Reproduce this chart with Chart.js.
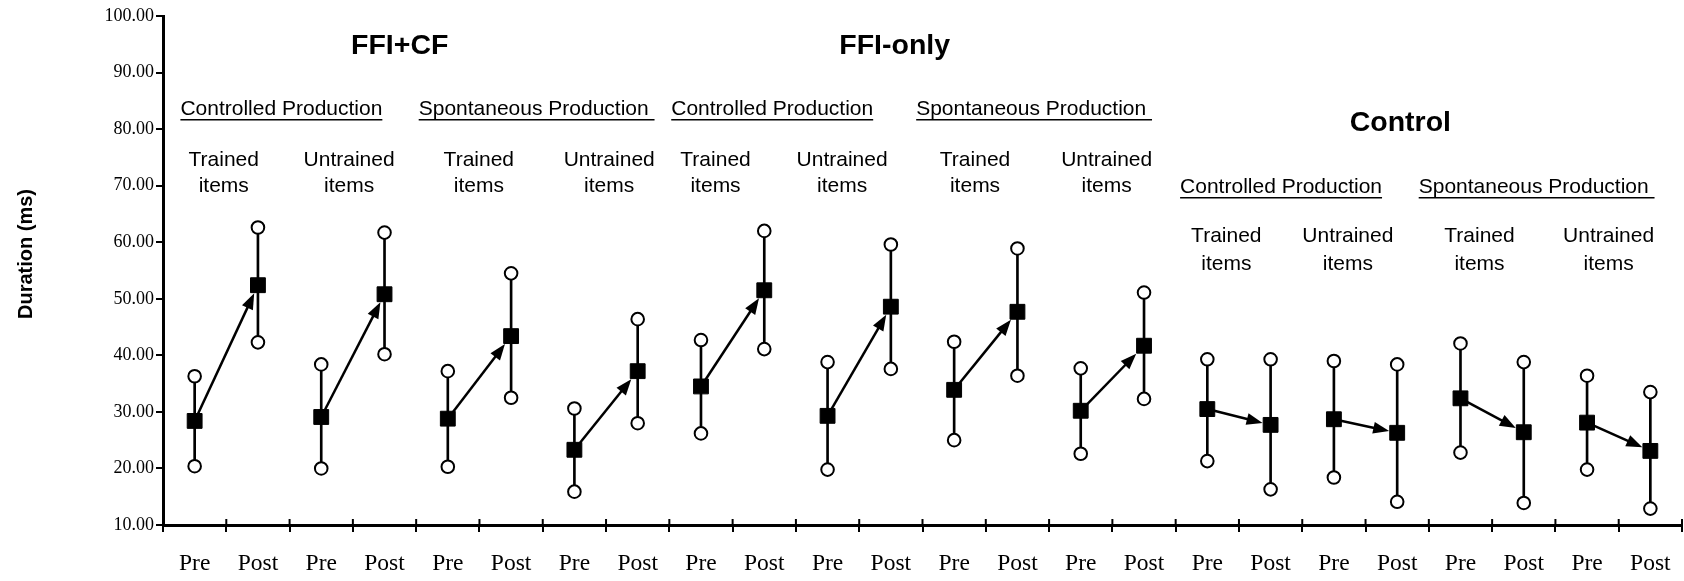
<!DOCTYPE html>
<html>
<head>
<meta charset="utf-8">
<script src="https://cdn.jsdelivr.net/npm/chart.js@4.4.0/dist/chart.umd.min.js"></script>
<style>
  html, body { margin: 0; padding: 0; background: #fff; }
  #wrap { width: 1684px; height: 581px; }
</style>
</head>
<body>
<div id="wrap"><canvas id="chart" width="1684" height="581"></canvas></div>
<script>
// x categories: Pre/Post for each of the 12 conditions
const categories = [
    'Pre', 'Post', 'Pre', 'Post', 'Pre', 'Post', 'Pre', 'Post',
    'Pre', 'Post', 'Pre', 'Post', 'Pre', 'Post', 'Pre', 'Post',
    'Pre', 'Post', 'Pre', 'Post', 'Pre', 'Post', 'Pre', 'Post'
];

// mean duration (ms)
const meanValues = [
    28.4, 52.4, 29.1, 50.8, 28.8, 43.4, 23.3, 37.2,
    34.5, 51.5, 29.3, 48.6, 33.9, 47.7, 30.2, 41.7,
    30.5, 27.7, 28.7, 26.3, 32.4, 26.4, 28.1, 23.1
];

// top of the error bar
const upperValues = [
    36.3, 62.6, 38.4, 61.7, 37.2, 54.5, 30.6, 46.4,
    42.7, 62.0, 38.8, 59.6, 42.4, 58.9, 37.7, 51.1,
    39.3, 39.3, 39.0, 38.4, 42.1, 38.8, 36.4, 33.5
];

// bottom of the error bar
const lowerValues = [
    20.4, 42.3, 20.0, 40.2, 20.3, 32.5, 15.9, 28.0,
    26.2, 41.1, 19.8, 37.6, 25.0, 36.4, 22.6, 32.3,
    21.3, 16.3, 18.4, 14.1, 22.8, 13.9, 19.8, 12.9
];

const yMin = 10;
const yMax = 100;
const yStep = 10;

// annotation texts
const groupTitles = ['FFI+CF', 'FFI-only', 'Control'];
const productionHeadings = [
    'Controlled Production', 'Spontaneous Production ',
    'Controlled Production', 'Spontaneous Production ',
    'Controlled Production', 'Spontaneous Production '
];
const itemLabels = [
    ['Trained', 'items'], ['Untrained', 'items'], ['Trained', 'items'], ['Untrained', 'items'],
    ['Trained', 'items'], ['Untrained', 'items'], ['Trained', 'items'], ['Untrained', 'items'],
    ['Trained', 'items'], ['Untrained', 'items'], ['Trained', 'items'], ['Untrained', 'items']
];

// where the annotations sit, in category index / axis value units
const titleAnchors = [[3.24, 94.6], [11.06, 94.6], [19.05, 81.0]];
const headingAnchors = [
    [-0.225, 83.6], [3.54, 83.6], [7.53, 83.6], [11.4, 83.6], [15.57, 69.8], [19.34, 69.8]
];
const itemAnchorX = [0.46, 2.44, 4.49, 6.55, 8.23, 10.23, 12.33, 14.41, 16.3, 18.22, 20.3, 22.34];
const itemRowsFFI = [74.5, 69.9];
const itemRowsControl = [61.1, 56.1];

const SANS = "'Liberation Sans', Arial, sans-serif";
const SERIF = "'Liberation Serif', 'Times New Roman', serif";

const annotationPlugin = {
    id: 'annotations',
    afterDatasetsDraw(chart) {
        const ctx = chart.ctx;
        const xs = chart.scales.x;
        const ys = chart.scales.y;
        ctx.save();

        // arrows from pre mean to post mean
        ctx.strokeStyle = '#000';
        ctx.fillStyle = '#000';
        ctx.lineWidth = 2.5;
        for (let i = 0; i < meanValues.length; i += 2) {
            const x0 = xs.getPixelForValue(i);
            const y0 = ys.getPixelForValue(meanValues[i]);
            const x1 = xs.getPixelForValue(i + 1);
            const y1 = ys.getPixelForValue(meanValues[i + 1]);
            const dx = x1 - x0, dy = y1 - y0;
            const len = Math.hypot(dx, dy);
            const ux = dx / len, uy = dy / len;
            const hs = 8;
            const s = Math.min(ux ? hs / Math.abs(ux) : Infinity, uy ? hs / Math.abs(uy) : Infinity);
            const tx = x1 - ux * s, ty = y1 - uy * s;
            const headLen = 16, headHalf = 6;
            const bx = tx - ux * headLen, by = ty - uy * headLen;
            ctx.beginPath();
            ctx.moveTo(x0, y0);
            ctx.lineTo(bx + ux * 2, by + uy * 2);
            ctx.stroke();
            ctx.beginPath();
            ctx.moveTo(tx, ty);
            ctx.lineTo(bx - uy * headHalf, by + ux * headHalf);
            ctx.lineTo(bx + uy * headHalf, by - ux * headHalf);
            ctx.closePath();
            ctx.fill();
        }

        // x tick marks poke above the axis line too
        const axisY = ys.getPixelForValue(yMin);
        ctx.lineWidth = 2;
        for (let i = 0; i <= categories.length; i++) {
            const px = xs.getPixelForValue(i - 0.5);
            ctx.beginPath();
            ctx.moveTo(px, axisY);
            ctx.lineTo(px, axisY - 6);
            ctx.stroke();
        }

        ctx.textBaseline = 'middle';

        // group titles
        ctx.font = 'bold 28.5px ' + SANS;
        ctx.textAlign = 'center';
        groupTitles.forEach((t, k) => {
            ctx.fillText(t, xs.getPixelForValue(titleAnchors[k][0]), ys.getPixelForValue(titleAnchors[k][1]));
        });

        // underlined production headings
        ctx.font = '21px ' + SANS;
        ctx.textAlign = 'left';
        ctx.lineWidth = 1.5;
        productionHeadings.forEach((t, k) => {
            const px = xs.getPixelForValue(headingAnchors[k][0]);
            const py = ys.getPixelForValue(headingAnchors[k][1]);
            ctx.fillText(t, px, py);
            const w = ctx.measureText(t).width;
            ctx.beginPath();
            ctx.moveTo(px, py + 11);
            ctx.lineTo(px + w, py + 11);
            ctx.stroke();
        });

        // trained / untrained labels
        ctx.textAlign = 'center';
        itemLabels.forEach((lines, k) => {
            const rows = k < 8 ? itemRowsFFI : itemRowsControl;
            const px = xs.getPixelForValue(itemAnchorX[k]);
            lines.forEach((line, r) => ctx.fillText(line, px, ys.getPixelForValue(rows[r])));
        });

        // y axis title
        ctx.save();
        ctx.translate(26, 254);
        ctx.rotate(-Math.PI / 2);
        ctx.font = 'bold 20px ' + SANS;
        ctx.fillText('Duration (ms)', 0, 0);
        ctx.restore();

        ctx.restore();
    }
};

const chart = new Chart(document.getElementById('chart').getContext('2d'), {
    type: 'bar',
    data: {
        labels: categories,
        datasets: [
            {
                // mean markers
                type: 'line',
                data: meanValues,
                showLine: false,
                pointStyle: 'rect',
                pointRadius: 10.5,
                pointBorderWidth: 1,
                pointBackgroundColor: '#000',
                pointBorderColor: '#000',
                order: 0
            },
            {
                type: 'line',
                data: upperValues,
                showLine: false,
                pointStyle: 'circle',
                pointRadius: 6.3,
                pointBorderWidth: 2,
                pointBackgroundColor: '#fff',
                pointBorderColor: '#000',
                order: 1
            },
            {
                type: 'line',
                data: lowerValues,
                showLine: false,
                pointStyle: 'circle',
                pointRadius: 6.3,
                pointBorderWidth: 2,
                pointBackgroundColor: '#fff',
                pointBorderColor: '#000',
                order: 2
            },
            {
                // error bar stems
                type: 'bar',
                data: lowerValues.map((lo, i) => [lo, upperValues[i]]),
                backgroundColor: '#000',
                barThickness: 2,
                order: 3
            }
        ]
    },
    options: {
        responsive: false,
        animation: false,
        devicePixelRatio: 1,
        layout: { autoPadding: false, padding: { top: 16, right: 2, left: 0, bottom: 0 } },
        plugins: {
            legend: { display: false },
            tooltip: { enabled: false }
        },
        scales: {
            x: {
                offset: true,
                grid: {
                    offset: true,
                    drawOnChartArea: false,
                    drawTicks: true,
                    tickLength: 7,
                    color: '#000',
                    lineWidth: 2
                },
                border: { display: true, color: '#000', width: 3 },
                ticks: {
                    color: '#000',
                    padding: 17.5,
                    maxRotation: 0,
                    autoSkip: false,
                    font: { family: SERIF, size: 23.5 }
                },
                afterFit(scale) {
                    scale.height = 56;
                    scale.paddingLeft = 0;
                    scale.paddingRight = 0;
                }
            },
            y: {
                min: yMin,
                max: yMax,
                grid: {
                    drawOnChartArea: false,
                    drawTicks: true,
                    tickLength: 7,
                    color: '#000',
                    lineWidth: 2
                },
                border: { display: true, color: '#000', width: 3 },
                ticks: {
                    stepSize: yStep,
                    color: '#000',
                    padding: 2,
                    font: { family: SERIF, size: 18 },
                    callback: (v) => Number(v).toFixed(2)
                },
                afterFit(scale) { scale.width = 163; }
            }
        }
    },
    plugins: [annotationPlugin]
});
</script>
</body>
</html>
